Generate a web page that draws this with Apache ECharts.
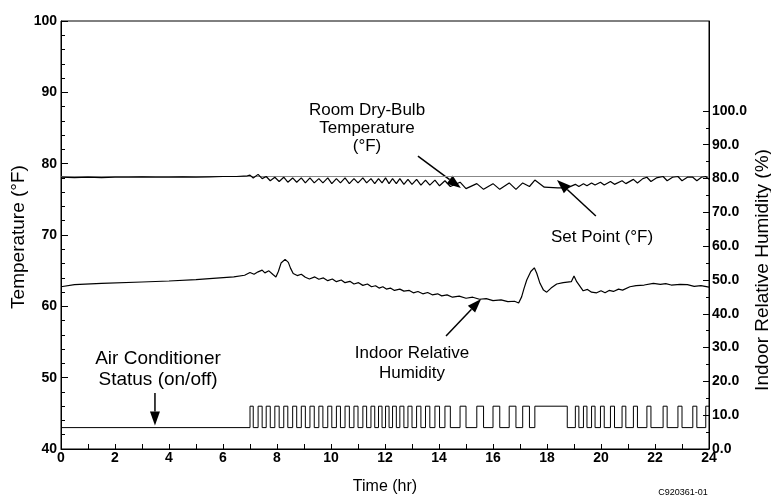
<!DOCTYPE html>
<html lang="en">
<head>
<meta charset="UTF-8">
<title>Room temperature, humidity and AC status</title>
<script src="https://cdn.jsdelivr.net/npm/echarts@6/dist/echarts.min.js"></script>
<style>html,body{margin:0;padding:0;background:#fff}</style>
</head>
<body>
<div id="myChart" style="width:771px;height:502px"></div>
<script>
// set point (degF) and the two levels used for the on/off trace on the left axis
var setPoint = 78.2;
var acOffLevel = 43;
var acOnLevel = 46;

// right axis (RH %) ticks
var rhTicks = [0, 10, 20, 30, 40, 50, 60, 70, 80, 90, 100];
var rhMinorTicks = [5, 15, 25, 35, 45, 55, 65, 75, 85, 95];
var rhMax = 126.6;

// air conditioner on periods [start hr, end hr]
var acOnPeriods = [
    [7.00,7.12],[7.30,7.45],[7.60,7.75],[7.92,8.08],[8.25,8.40],[8.58,8.73],[8.90,9.05],
    [9.22,9.38],[9.55,9.70],[9.88,10.03],[10.20,10.35],[10.52,10.68],[10.85,11.00],
    [11.18,11.32],[11.48,11.62],[11.76,11.89],[12.02,12.15],[12.28,12.42],[12.55,12.70],
    [12.85,13.00],[13.17,13.33],[13.50,13.66],[13.85,14.02],[14.22,14.42],[14.78,15.00],
    [15.40,15.65],[16.00,16.25],[16.60,16.85],[17.10,17.35],[17.55,18.75],[19.05,19.18],
    [19.35,19.48],[19.65,19.78],[19.98,20.12],[20.35,20.50],[20.78,20.92],[21.20,21.35],
    [21.70,21.85],[22.30,22.45],[22.85,23.00],[23.40,23.55],[23.88,24.00]
];

// room dry-bulb temperature [hr, degF]
var roomTemp = [
    [0,78.1],[0.5,78.05],[1,78.1],[1.5,78.05],[2,78.1],[2.5,78.1],[3,78.15],[3.5,78.1],
    [4,78.1],[4.5,78.15],[5,78.1],[5.5,78.15],[6,78.2],[6.5,78.2],[6.9,78.3],
    [7.00,78.4],[7.12,78.0],[7.30,78.5],[7.45,77.9],[7.60,78.2],[7.75,77.6],[7.92,78.1],
    [8.08,77.5],[8.25,78.1],[8.40,77.4],[8.58,78.0],[8.73,77.4],[8.90,78.0],[9.05,77.3],
    [9.22,78.0],[9.38,77.3],[9.55,77.9],[9.70,77.3],[9.88,78.0],[10.03,77.2],[10.20,77.9],
    [10.35,77.3],[10.52,78.0],[10.68,77.2],[10.85,77.9],[11.00,77.3],[11.18,78.0],[11.32,77.3],
    [11.48,77.9],[11.62,77.2],[11.76,77.9],[11.89,77.3],[12.02,78.0],[12.15,77.2],[12.28,77.9],
    [12.42,77.2],[12.55,77.9],[12.70,77.1],[12.85,77.8],[13.00,77.1],[13.17,77.8],[13.33,77.0],
    [13.50,77.7],[13.66,77.0],[13.85,77.7],[14.02,76.9],[14.22,77.6],[14.42,76.8],[14.78,77.4],
    [15.00,76.5],[15.40,77.2],[15.65,76.4],[16.00,77.2],[16.25,76.4],[16.60,77.3],[16.85,76.4],
    [17.10,77.3],[17.35,76.8],[17.55,77.7],[17.90,76.7],[18.40,76.6],[18.75,76.6],[19.05,77.1],
    [19.18,76.8],[19.35,77.2],[19.48,76.9],[19.65,77.3],[19.78,77.0],[19.98,77.4],[20.12,77.0],
    [20.35,77.5],[20.50,77.1],[20.78,77.6],[20.92,77.2],[21.20,77.8],[21.35,77.3],[21.55,77.9],
    [21.70,78.1],[21.85,77.5],[22.05,78.0],[22.30,78.2],[22.45,77.6],[22.65,78.1],[22.85,78.2],
    [23.00,77.6],[23.20,78.1],[23.40,78.1],[23.55,77.6],[23.72,78.1],[23.88,78.2],[24.0,77.8]
];

// indoor relative humidity [hr, %]
var indoorRH = [
    [0,48.0],[0.5,48.6],[1.5,49.0],[3,49.4],[4,49.7],[5,50.1],[5.5,50.4],[6.4,50.9],[6.8,51.4],
    [7.0,52.2],[7.15,51.7],[7.3,52.4],[7.45,52.9],[7.55,52.1],[7.7,52.7],[7.85,51.6],[7.96,50.9],
    [8.05,52.5],[8.15,55.0],[8.3,56.1],[8.42,55.2],[8.5,53.5],[8.6,51.9],[8.75,51.3],[8.9,51.7],
    [9.05,50.8],[9.2,50.3],[9.4,50.9],[9.55,50.2],[9.72,50.6],[9.88,49.8],[10.05,50.3],[10.2,49.5],
    [10.38,50.0],[10.52,49.2],[10.7,49.6],[10.85,48.8],[11.02,49.2],[11.18,48.4],[11.35,48.8],
    [11.5,48.0],[11.65,48.3],[11.78,47.6],[11.92,48.0],[12.05,47.3],[12.2,47.6],[12.35,46.9],
    [12.55,47.3],[12.7,46.7],[12.9,46.9],[13.05,46.2],[13.22,46.6],[13.4,45.9],[13.58,46.3],
    [13.75,45.6],[13.95,45.9],[14.1,45.3],[14.3,45.6],[14.5,44.9],[14.75,45.2],[15.0,44.6],
    [15.25,44.9],[15.5,44.3],[15.75,44.5],[16.0,43.9],[16.3,44.1],[16.55,43.6],[16.8,43.7],
    [16.95,43.2],[17.06,45.0],[17.15,47.5],[17.25,50.0],[17.4,52.5],[17.53,53.6],[17.62,52.0],
    [17.74,49.0],[17.87,47.0],[17.99,46.4],[18.15,47.6],[18.36,48.8],[18.6,49.2],[18.9,49.5],
    [19.0,51.2],[19.1,49.5],[19.34,46.8],[19.5,47.2],[19.65,46.4],[19.84,46.2],[20.0,46.8],
    [20.15,46.2],[20.3,46.9],[20.46,46.6],[20.65,47.3],[20.8,47.0],[21.07,48.0],[21.3,48.3],
    [21.6,48.5],[21.94,49.0],[22.2,48.7],[22.4,48.9],[22.6,48.5],[22.93,48.7],[23.2,48.6],
    [23.45,48.1],[23.7,48.3],[24,47.9]
];

var font = "'Liberation Sans', Arial, Helvetica, sans-serif";

// on/off step trace
var acData = [[0, acOffLevel]];
acOnPeriods.forEach(function (p) {
    acData.push([p[0], acOnLevel]);
    if (p[1] < 24) {
        acData.push([p[1], acOffLevel]);
    } else {
        acData.push([24, acOnLevel]);
    }
});
if (acData[acData.length - 1][0] < 24) acData.push([24, acOffLevel]);

var tickLabel = {color: '#000', fontFamily: font, fontSize: 14, fontWeight: 'bold'};

var myChart = echarts.init(document.getElementById('myChart'));
myChart.setOption({
    animation: false,
    backgroundColor: '#fff',
    grid: {
        left: 61, right: 62, top: 21, bottom: 53, outerBoundsMode: 'none',
        show: true, borderColor: '#000', borderWidth: 1
    },
    xAxis: {
        type: 'value', min: 0, max: 24, interval: 2,
        name: 'Time (hr)', nameLocation: 'middle', nameGap: 30,
        nameTextStyle: {color: '#000', fontFamily: font, fontSize: 16},
        axisLine: {lineStyle: {color: '#000', width: 1}},
        axisTick: {inside: true, length: 5, lineStyle: {color: '#000'}},
        minorTick: {show: true, splitNumber: 2, length: 5, lineStyle: {color: '#000'}},
        splitLine: {show: false},
        axisLabel: Object.assign({margin: 2}, tickLabel)
    },
    yAxis: [{
        type: 'value', min: 40, max: 100, interval: 10, position: 'left',
        axisLine: {show: true, lineStyle: {color: '#000'}},
        axisTick: {inside: true, length: 7, lineStyle: {color: '#000'}},
        minorTick: {show: true, splitNumber: 5, length: 4, lineStyle: {color: '#000'}},
        splitLine: {show: false},
        axisLabel: Object.assign({margin: 4, padding: [0, 0, 8, 0]}, tickLabel)
    }, {
        type: 'value', min: 0, max: rhMax, position: 'right',
        axisLine: {show: true, lineStyle: {color: '#000'}},
        axisTick: {inside: true, length: 6, customValues: rhTicks, lineStyle: {color: '#000'}},
        splitLine: {show: false},
        axisLabel: Object.assign({
            margin: 3, padding: [0, 0, 7, 0], customValues: rhTicks,
            formatter: function (v) { return v.toFixed(1); }
        }, tickLabel)
    }, {
        type: 'value', min: 0, max: rhMax, position: 'right',
        axisLine: {show: false},
        axisTick: {inside: true, length: 3, customValues: rhMinorTicks, lineStyle: {color: '#000'}},
        axisLabel: {show: false},
        splitLine: {show: false}
    }],
    series: [{
        name: 'Set Point', type: 'line', data: [[0, setPoint], [24, setPoint]],
        symbol: 'none', lineStyle: {color: '#888', width: 1}, z: 1
    }, {
        name: 'Room Dry-Bulb Temperature', type: 'line', data: roomTemp,
        symbol: 'none', lineStyle: {color: '#000', width: 1.2}, z: 2
    }, {
        name: 'Indoor Relative Humidity', type: 'line', yAxisIndex: 1, data: indoorRH,
        symbol: 'none', lineStyle: {color: '#000', width: 1.2}
    }, {
        name: 'Air Conditioner Status', type: 'line', step: 'end', data: acData,
        symbol: 'none', lineStyle: {color: '#000', width: 1}
    }]
});

// annotation arrows: tail and tip in data units (hr, degF)
function px(p) {
    return myChart.convertToPixel({xAxisIndex: 0, yAxisIndex: 0}, p);
}
function arrow(from, to) {
    var a = px(from), b = px(to);
    var dx = b[0] - a[0], dy = b[1] - a[1];
    var len = Math.sqrt(dx * dx + dy * dy);
    var ux = dx / len, uy = dy / len;
    var hl = 14, hw = 5;
    var bx = b[0] - ux * hl, by = b[1] - uy * hl;
    return [{
        type: 'line', silent: true,
        shape: {x1: a[0], y1: a[1], x2: bx, y2: by},
        style: {stroke: '#000', lineWidth: 1.5}
    }, {
        type: 'polygon', silent: true,
        shape: {points: [[b[0], b[1]], [bx - uy * hw, by + ux * hw], [bx + uy * hw, by - ux * hw]]},
        style: {fill: '#000'}
    }];
}
function label(text, x, y, size, lh, rot) {
    return {
        type: 'text', silent: true, x: x, y: y, rotation: rot || 0,
        style: {
            text: text, fill: '#000', font: size + 'px ' + font, lineHeight: lh,
            align: 'center', verticalAlign: 'middle', textAlign: 'center', textVerticalAlign: 'middle'
        }
    };
}

var graphics = []
    .concat(arrow([13.22, 81.07], [14.81, 76.59]))
    .concat(arrow([19.81, 72.66], [18.37, 77.71]))
    .concat(arrow([14.26, 55.84], [15.56, 61.03]))
    .concat(arrow([3.48, 47.85], [3.48, 43.3]));

graphics.push(label('Room Dry-Bulb\nTemperature\n(°F)', 367, 128, 17, 18));
graphics.push(label('Set Point (°F)', 602, 237, 17, 20));
graphics.push(label('Indoor Relative\nHumidity', 412, 363, 17, 20));
graphics.push(label('Air Conditioner\nStatus (on/off)', 158, 369, 19, 21));
// axis titles for the two value axes
graphics.push(label('Temperature (°F)', 19, 237, 19, 20, Math.PI / 2));
graphics.push(label('Indoor Relative Humidity (%)', 763, 270, 19, 20, Math.PI / 2));
graphics.push(label('C920361-01', 683, 493, 9, 10));

myChart.setOption({graphic: graphics});
</script>
</body>
</html>
